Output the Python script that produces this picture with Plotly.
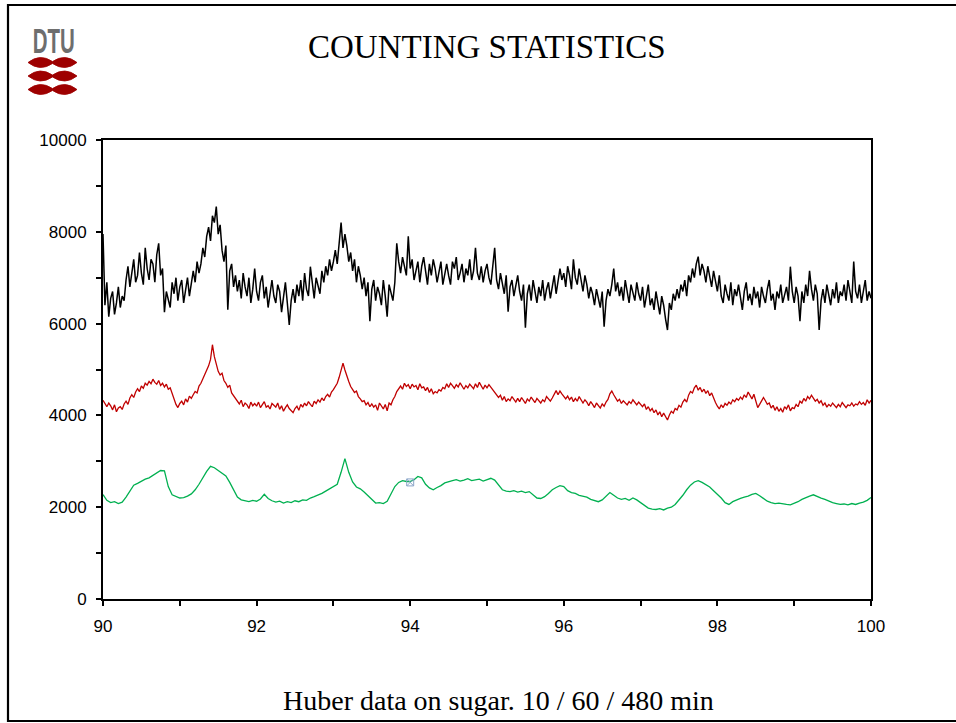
import numpy as np
import plotly.graph_objects as go

# Counts per channel, 10 min acquisition (step 0.025)
black_10min = [
    7950, 6400, 6900, 6150, 6550, 6700, 6200, 6450, 6800, 6350, 6600, 6500, 6950, 7250, 6800, 7100, 7400, 6900, 7050, 7550,
    7100, 6850, 7650, 7200, 6950, 7400, 7300, 6900, 7500, 7750, 7050, 7200, 6250, 6700, 6500, 6350, 6900, 6650, 7000, 6500,
    6800, 6950, 6450, 6700, 7000, 6600, 6850, 7150, 6900, 7350, 7100, 7300, 7650, 7450, 7900, 8100, 7800, 8350, 8200, 8550,
    7950, 8150, 7600, 7350, 7700, 6300, 7150, 7300, 6800, 7050, 6700, 6950, 6550, 7100, 6800, 6600, 7000, 6450, 6750, 7200,
    6700, 6500, 6900, 7050, 6550, 6800, 6350, 6700, 6950, 6600, 6450, 6850, 6700, 6250, 6600, 6900, 6450, 5970, 6500, 6750,
    6450, 6850, 6600, 6950, 6500, 7100, 6750, 6600, 7240, 6850, 6550, 7000, 6800, 6650, 7150, 6900, 7250, 7050, 7400, 7150,
    7350, 7600, 7300, 7800, 8200, 7650, 7950, 7700, 7350, 7550, 7150, 7400, 6900, 7250, 7050, 6750, 7000, 6600, 6900, 6050,
    6750, 6950, 6500, 6800, 6650, 6400, 6950, 6600, 6150, 6850, 6700, 6500, 6900, 7750, 7350, 7100, 7450, 7250, 7050, 7900,
    7200, 7400, 6950, 7150, 7350, 6900, 7250, 7450, 7100, 6850, 7300, 7050, 7400, 7200, 6900, 7150, 7350, 6850, 7100, 7300,
    7050, 6850, 7350, 7200, 7450, 6950, 7100, 7300, 6900, 7200, 7050, 7400, 6950, 7150, 7650, 7100, 6950, 7250, 6900, 7150,
    7300, 7000, 6850, 7200, 7650, 6950, 6750, 7100, 6900, 6650, 7050, 6260, 6800, 6950, 6600, 6850, 7050, 6700, 6500, 6850,
    5910, 6650, 6850, 6500, 6950, 6700, 6450, 6800, 6600, 6950, 6500, 6750, 6900, 6550, 6800, 7050, 6650, 6900, 7200, 6950,
    7100, 6800, 7250, 7050, 6750, 7400, 7000, 6850, 7200, 6950, 6700, 7050, 6850, 6550, 6800, 6650, 6400, 6750, 6550, 6350,
    6700, 5930, 6500, 6750, 6600, 6850, 7200, 6700, 6900, 6600, 6800, 6500, 6950, 6650, 6450, 6850, 6700, 6500, 6900, 6650,
    6500, 6800, 6350, 6650, 6850, 6400, 6550, 6300, 6700, 6450, 6200, 6600, 6400, 6100, 5860, 6450, 6300, 6650, 6500, 6750,
    6550, 6850, 6700, 6950, 6600, 7050, 6900, 7200, 7000, 7300, 7460, 7050, 7300, 7150, 6900, 7250, 7050, 6800, 7150, 6900,
    6700, 7050, 6600, 6450, 6850, 6650, 6500, 6900, 6400, 6750, 6600, 6850, 6550, 6300, 6700, 6900, 6500, 6650, 6400, 6800,
    6550, 6700, 6350, 6800, 6600, 6450, 6750, 6950, 6500, 6650, 6300, 6700, 6550, 6850, 6450, 6650, 6800, 6500, 7240, 6700,
    6450, 6800, 6600, 6050, 6700, 6450, 6850, 6600, 7150, 6750, 6500, 6850, 6650, 5860, 6500, 6750, 6450, 6850, 6600, 6400,
    6750, 6550, 6900, 6450, 6700, 6600, 6850, 6500, 6950, 6650, 6450, 7350, 6700, 6550, 6850, 6450, 6750, 6950, 6500, 6700,
    6550,
]

# Counts per channel, 60 min acquisition (step 0.025)
red_60min = [
    4330, 4250, 4190, 4270, 4210, 4120, 4230, 4080, 4160, 4190, 4130, 4250, 4310, 4240, 4380, 4450, 4390, 4510, 4580, 4520,
    4640, 4590, 4700, 4660, 4740, 4690, 4790, 4720, 4680, 4760, 4650, 4700, 4620, 4680, 4570, 4600, 4470, 4360, 4240, 4170,
    4260, 4310, 4230, 4360, 4290, 4420, 4370, 4450, 4520, 4490, 4640, 4700, 4790, 4900, 4960, 5080, 5220, 5540, 5280, 5090,
    4960, 4880, 4920, 4760, 4700, 4610, 4660, 4490, 4430, 4350, 4310, 4250, 4330, 4190, 4270, 4230, 4150, 4290, 4210, 4260,
    4200, 4290, 4170, 4240, 4300, 4180, 4210, 4140, 4260, 4220, 4180, 4270, 4130, 4210, 4090, 4170, 4230, 4150, 4100, 4060,
    4150, 4200, 4110, 4240, 4180, 4270, 4210, 4300, 4240, 4190, 4310, 4260, 4340, 4290, 4380, 4320, 4410, 4460, 4400, 4510,
    4560, 4620, 4700, 4830, 4960, 5140, 4990, 4850, 4740, 4630, 4560, 4500, 4530, 4410, 4360, 4300, 4320, 4230, 4280, 4190,
    4250, 4180, 4230, 4110, 4270, 4200, 4140, 4240, 4100, 4270, 4230, 4340, 4410, 4520, 4590, 4640, 4570, 4700, 4630, 4670,
    4580, 4680, 4620, 4650, 4560, 4690, 4600, 4620, 4540, 4610, 4500, 4580, 4470, 4520, 4490, 4560, 4530, 4610, 4580, 4690,
    4610, 4700, 4650, 4590, 4670, 4620, 4710, 4630, 4570, 4650, 4600, 4680, 4630, 4580, 4690, 4610, 4720, 4640, 4570, 4660,
    4600, 4670, 4610, 4560, 4500, 4440, 4390, 4440, 4330, 4410, 4300, 4360, 4320, 4410, 4350, 4290, 4370, 4300, 4390, 4330,
    4260, 4360, 4310, 4400, 4340, 4280, 4370, 4320, 4270, 4340, 4300, 4410, 4350, 4310, 4380, 4450, 4540, 4450, 4530, 4470,
    4410, 4360, 4420, 4340, 4400, 4300, 4370, 4310, 4410, 4340, 4270, 4340, 4290, 4210, 4300, 4240, 4170, 4270, 4220, 4160,
    4250, 4200, 4290, 4350, 4470, 4530, 4450, 4390, 4310, 4350, 4260, 4320, 4280, 4230, 4300, 4260, 4340, 4290, 4230, 4290,
    4240, 4190, 4250, 4130, 4190, 4100, 4150, 4060, 4120, 4010, 4080, 3970, 4050, 3960, 3900, 4010, 4090, 4050, 4150, 4120,
    4220, 4180, 4290, 4350, 4290, 4440, 4520, 4490, 4600, 4660, 4550, 4610, 4510, 4570, 4480, 4540, 4430, 4490, 4370, 4280,
    4200, 4140, 4230, 4170, 4260, 4220, 4290, 4250, 4340, 4300, 4370, 4330, 4400, 4350, 4450, 4390, 4510, 4430, 4360, 4460,
    4290, 4170, 4240, 4330, 4390, 4320, 4240, 4270, 4160, 4220, 4110, 4190, 4090, 4150, 4070, 4190, 4140, 4230, 4100, 4170,
    4150, 4240, 4190, 4310, 4270, 4370, 4310, 4410, 4360, 4440, 4380, 4310, 4350, 4270, 4320, 4220, 4270, 4180, 4240, 4200,
    4270, 4210, 4170, 4240, 4190, 4280, 4210, 4170, 4230, 4210, 4270, 4200, 4250, 4230, 4300, 4240, 4280, 4220, 4340, 4270,
    4330,
]

# Counts per channel, 480 min acquisition (step 0.05)
green_480min = [
    2275, 2150, 2100, 2120, 2080, 2110, 2220, 2360, 2480, 2520, 2570, 2610, 2640, 2700, 2760, 2800, 2790, 2450, 2270, 2230,
    2200, 2210, 2240, 2290, 2380, 2500, 2650, 2780, 2890, 2860, 2800, 2740, 2680, 2540, 2370, 2220, 2160, 2140, 2120, 2150,
    2130, 2180, 2280, 2190, 2140, 2110, 2130, 2090, 2120, 2100, 2140, 2120, 2160, 2150, 2200, 2230, 2260, 2300, 2350, 2400,
    2440, 2500, 2760, 3060, 2760, 2550, 2440, 2400, 2330, 2250, 2150, 2090, 2100, 2080, 2130, 2300, 2450, 2540, 2580, 2560,
    2560, 2600, 2670, 2640, 2500, 2420, 2380, 2430, 2470, 2530, 2560, 2580, 2600, 2570, 2590, 2620, 2580, 2600, 2610, 2570,
    2600, 2630, 2590, 2480, 2380, 2350, 2340, 2360, 2330, 2350, 2320, 2340, 2260, 2200, 2190, 2230, 2300, 2380, 2430, 2470,
    2450, 2360, 2320, 2300, 2260, 2240, 2220, 2170, 2140, 2120, 2160, 2240, 2320, 2260, 2200, 2170, 2190, 2150, 2200, 2160,
    2100, 2020, 1980, 1960, 1950, 1970, 1940, 1980, 2000, 2060, 2150, 2260, 2380, 2480, 2550, 2580, 2540, 2490, 2440, 2360,
    2290, 2200, 2100, 2060, 2120, 2160, 2190, 2220, 2240, 2280, 2300, 2250, 2180, 2130, 2100, 2080, 2090, 2070, 2060, 2050,
    2080, 2120, 2170, 2210, 2240, 2270, 2230, 2200, 2170, 2130, 2100, 2080, 2060, 2070, 2050, 2080, 2060, 2090, 2110, 2150,
    2210,
]

# Small selection glyph sitting on the 480 min curve
marker_x = [94.0]
marker_y = [2540]

x_ticks = [90, 92, 94, 96, 98, 100]
y_ticks = [0, 2000, 4000, 6000, 8000, 10000]

x_black = np.linspace(90, 100, len(black_10min))
x_red = np.linspace(90, 100, len(red_60min))
x_green = np.linspace(90, 100, len(green_480min))

W, H = 956, 723
L, R, T, B = 103, 871, 140, 599


def px(x):
    return (x - L) / (R - L)


def py(y):
    return (B - y) / (B - T)


fig = go.Figure()
fig.add_trace(go.Scatter(x=x_green, y=green_480min, mode="lines",
                         line=dict(color="#00b050", width=1.3), hoverinfo="skip"))
fig.add_trace(go.Scatter(x=x_red, y=red_60min, mode="lines",
                         line=dict(color="#c00000", width=1.3), hoverinfo="skip"))
fig.add_trace(go.Scatter(x=x_black, y=black_10min, mode="lines",
                         line=dict(color="#000000", width=1.5), hoverinfo="skip"))
fig.add_trace(go.Scatter(x=marker_x, y=marker_y, mode="markers",
                         marker=dict(symbol="square-x-open", size=7, color="#8aa4c8",
                                     line=dict(width=1)), hoverinfo="skip"))

axis_common = dict(
    showline=True, linewidth=2, linecolor="black", mirror=True,
    ticks="outside", ticklen=5, tickwidth=2, tickcolor="black",
    showgrid=False, zeroline=False,
    tickfont=dict(family="Liberation Sans, Arial, sans-serif", size=17, color="black"),
)

fig.update_xaxes(range=[90, 100], tickvals=x_ticks, ticktext=[str(v) for v in x_ticks],
                 minor=dict(dtick=1, tick0=90, ticks="outside", ticklen=5, tickwidth=2,
                            tickcolor="black", showgrid=False),
                 ticklabelstandoff=6, **axis_common)
fig.update_yaxes(range=[0, 10000], tickvals=y_ticks, ticktext=[str(v) for v in y_ticks],
                 minor=dict(dtick=1000, tick0=0, ticks="outside", ticklen=5, tickwidth=2,
                            tickcolor="black", showgrid=False),
                 ticklabelstandoff=6, **axis_common)

# Slide frame (left, top and bottom edges)
frame = (f"M {px(975)},{py(5)} L {px(8)},{py(5)} "
         f"L {px(8)},{py(721)} L {px(975)},{py(721)}")
shapes = [dict(type="path", xref="paper", yref="paper", path=frame,
               line=dict(color="black", width=2.2), layer="above")]

# DTU emblem: three double-lens bars
for yc in (62.5, 76.0, 89.5):
    p = (f"M {px(28)},{py(yc)} "
         f"Q {px(40)},{py(yc - 9.5)} {px(52.5)},{py(yc - 1)} "
         f"Q {px(65)},{py(yc - 9.5)} {px(77)},{py(yc)} "
         f"Q {px(65)},{py(yc + 9.5)} {px(52.5)},{py(yc + 1)} "
         f"Q {px(40)},{py(yc + 9.5)} {px(28)},{py(yc)} Z")
    shapes.append(dict(type="path", xref="paper", yref="paper", path=p,
                       fillcolor="#9e0000", line=dict(color="#9e0000", width=0.8)))

annotations = [
    dict(text="COUNTING STATISTICS", x=px(487), y=py(47), xref="paper", yref="paper",
         xanchor="center", yanchor="middle", showarrow=False,
         font=dict(family="Liberation Serif, Times New Roman, serif", size=33, color="black")),
    dict(text="Huber data on sugar. 10 / 60 / 480 min", x=px(498), y=py(700),
         xref="paper", yref="paper", xanchor="center", yanchor="middle", showarrow=False,
         font=dict(family="Liberation Serif, Times New Roman, serif", size=28, color="black")),
    dict(text="<b>DTU</b>", x=px(53.5), y=py(40.5), xref="paper", yref="paper",
         xanchor="center", yanchor="middle", showarrow=False,
         font=dict(family="Liberation Sans, Arial, sans-serif", size=31, color="#6e6e6e")),
]

fig.update_layout(
    width=W, height=H,
    margin=dict(l=L, r=W - R, t=T, b=H - B),
    paper_bgcolor="white", plot_bgcolor="white",
    showlegend=False,
    shapes=shapes, annotations=annotations,
)

# The emblem lettering is set in a condensed cut: squeeze it horizontally
post = """
document.querySelectorAll('.annotation-text').forEach(function (t) {
  if (t.textContent === 'DTU') {
    t.style.transformBox = 'fill-box';
    t.style.transformOrigin = 'center';
    t.style.transform = 'scale(0.66, 1.15)';
  }
});
"""

fig.write_html("out.html", include_plotlyjs=True, config={"displayModeBar": False},
               post_script=post)
